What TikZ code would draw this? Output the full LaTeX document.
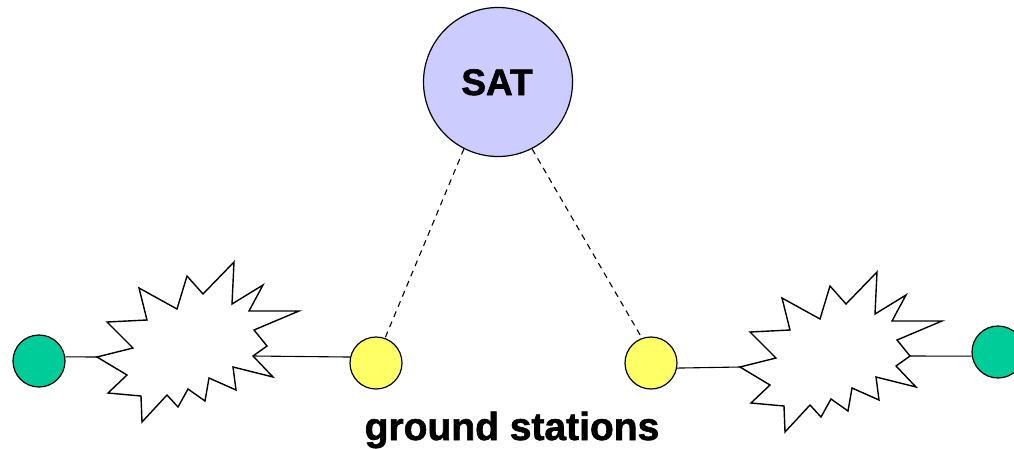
\documentclass[tikz,border=0pt]{standalone}
\usepackage{fontspec}
\newfontfamily\labelfont[FakeBold=1.6]{Liberation Sans Bold}
\definecolor{satfill}{HTML}{CCCCFF}
\definecolor{stationfill}{HTML}{FFFF66}
\definecolor{hostfill}{HTML}{00CC99}
\tikzset{
  outline/.style={draw=black, line width=1.2pt},
  dot/.style={circle, outline, minimum size=52pt, inner sep=0pt},
  station/.style={dot, fill=stationfill},
  host/.style={dot, fill=hostfill},
  link/.style={black, line width=1.1pt},
  sight/.style={black, line width=1.1pt, dash pattern=on 6pt off 5pt},
  cloudline/.style={black, line width=1.4pt, line join=miter, fill=white},
  heavytext/.style={font=\labelfont\fontsize{37}{40}\selectfont, inner sep=0pt}
}
\newcommand{\burstshape}{%
  (97,357) -- (133,348) -- (107,322) -- (147,320) -- (139,288) -- (177,309) --
  (187,276) -- (203,294) -- (234,262) -- (232,304) -- (263,285) -- (249,311) --
  (299,311) -- (254,330) -- (267,346) -- (253,356) -- (273,377) -- (233,367) --
  (236,390) -- (209,378) -- (205,401) -- (188,389) -- (178,407) -- (167,395) --
  (142,422) -- (141,396) -- (108,393) -- (127,375) -- cycle}
\begin{document}
\begin{tikzpicture}[x=1pt, y=-1pt]
\useasboundingbox (0,0) rectangle (1014,448);
% clouds
\draw[cloudline] \burstshape;
\begin{scope}[shift={(643,10)}]
  \draw[cloudline] \burstshape;
\end{scope}
\coordinate (e1w) at (97,357);
\coordinate (e1e) at (253,356);
\coordinate (e2w) at (740,367);
\coordinate (e2e) at (910,356);
% nodes
\node[circle, outline, fill=satfill, minimum size=149pt, inner sep=0pt] (sat) at (498,82) {};
\node[heavytext, anchor=base] (satlabel) at (497,95) {SAT};
\node[host] (h1) at (39,361) {};
\node[station] (s1) at (376,363) {};
\node[station] (s2) at (651,363) {};
\node[host] (h2) at (998,352) {};
\node[heavytext, font=\labelfont\fontsize{39}{42}\selectfont, anchor=base] (gs) at (512,440) {ground stations};
% connectors
\draw[link] (h1.9) -- (e1w);
\draw[link] (e1e) -- (s1.167);
\draw[link] (s2.-11) -- (e2w);
\draw[link] (e2e) -- (h2.189);
\draw[sight] (sat.243) -- (s1.70);
\draw[sight] (sat.297) -- (s2.110);
\end{tikzpicture}
\end{document}
